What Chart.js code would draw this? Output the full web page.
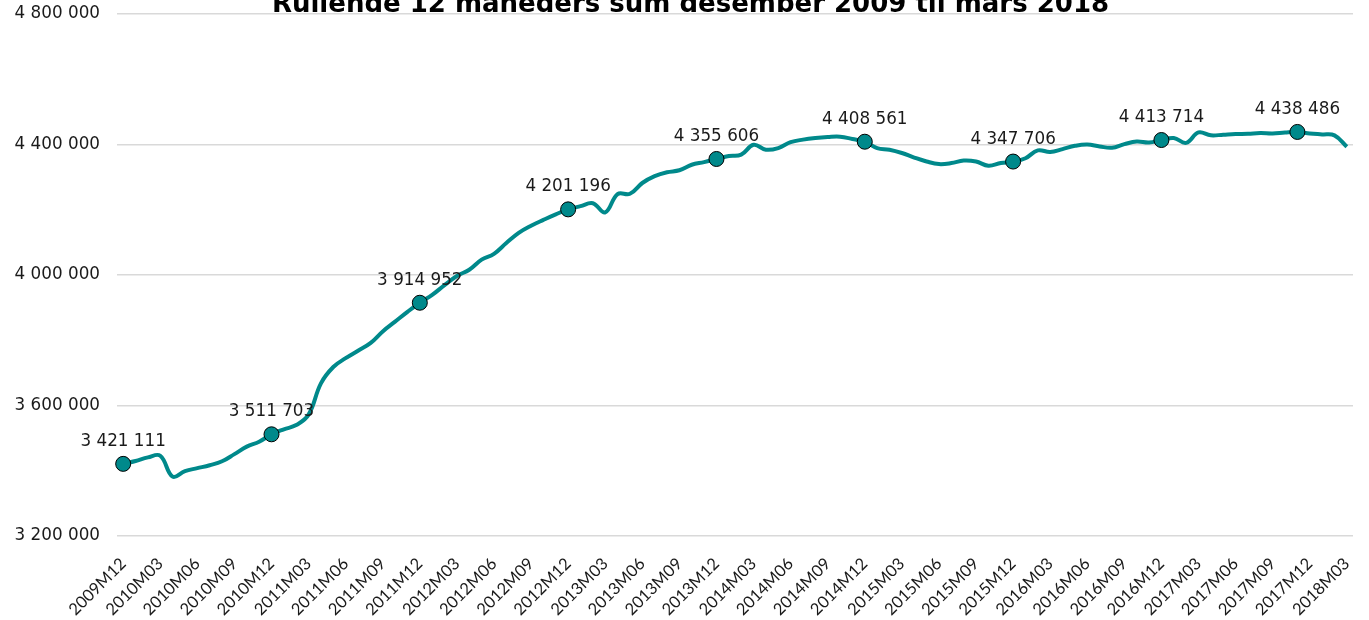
<!DOCTYPE html>
<html lang="no">
<head>
<meta charset="utf-8">
<title>Rullende 12 måneders sum</title>
<script src="https://cdn.jsdelivr.net/npm/chart.js@4/dist/chart.umd.min.js"></script>
<style>
  html, body { margin: 0; padding: 0; background: #ffffff; }
  #wrap { position: relative; width: 1369px; height: 620px; }
</style>
</head>
<body>
<div id="wrap"><canvas id="chart"></canvas></div>
<script>
// Rolling 12-month sum, monthly from 2009M12 to 2018M03
const title = 'Rullende 12 måneders sum desember 2009 til mars 2018';

const startYear = 2009;
const startMonth = 12;
const monthCount = 100;

const values = [
  3421111, 3430000, 3441000, 3446000, 3382000, 3399000, 3408000, 3417000, 3429000, 3451000,
  3474000, 3489000, 3511703, 3527000, 3540000, 3572000, 3668000, 3718000, 3745000, 3768000,
  3791000, 3827000, 3857000, 3887000, 3914952, 3939000, 3969000, 3997000, 4016000, 4047000,
  4065000, 4098000, 4129000, 4151000, 4169000, 4186000, 4201196, 4211000, 4220000, 4192000,
  4248000, 4249000, 4282000, 4303000, 4315000, 4321000, 4338000, 4346000, 4355606, 4365000,
  4369000, 4399000, 4384000, 4389000, 4407000, 4415000, 4420000, 4423000, 4424000, 4417000,
  4408561, 4389000, 4384000, 4374000, 4360000, 4348000, 4340000, 4343000, 4351000, 4348000,
  4335000, 4343000, 4347706, 4358000, 4382000, 4377000, 4386000, 4396000, 4400000, 4394000,
  4390000, 4401000, 4409000, 4406000, 4413714, 4420000, 4405000, 4437000, 4428000, 4430000,
  4432000, 4433000, 4435000, 4434000, 4437000, 4438486, 4434000, 4431000, 4428000, 4393000
];

// Points that carry a marker and a value label
const labelledPoints = [0, 12, 24, 36, 48, 60, 72, 84, 95];

// Y axis range and step
const yMin = 3200000;
const yMax = 4800000;
const yStep = 400000;

// Month labels like 2009M12, a tick label shown every third month
const months = [];
for (let i = 0; i < monthCount; i++) {
  const m0 = startMonth - 1 + i;
  const y = startYear + Math.floor(m0 / 12);
  const m = (m0 % 12) + 1;
  months.push(y + 'M' + String(m).padStart(2, '0'));
}
const tickEvery = 3;

const teal = '#00898b';

function fmt(v) {
  return String(Math.round(v)).replace(/\B(?=(\d{3})+(?!\d))/g, ' ');
}

const pointRadius = values.map((_, i) => labelledPoints.includes(i) ? 7.5 : 0);

const valueLabels = {
  id: 'valueLabels',
  afterDatasetsDraw(chart) {
    const ctx = chart.ctx;
    const meta = chart.getDatasetMeta(0);
    ctx.save();
    ctx.font = '16.8px "DejaVu Sans"';
    ctx.fillStyle = '#1a1a1a';
    ctx.textAlign = 'center';
    ctx.textBaseline = 'alphabetic';
    labelledPoints.forEach(i => {
      const p = meta.data[i];
      ctx.fillText(fmt(values[i]), p.x, p.y - 18);
    });
    ctx.restore();
  }
};

const topTitle = {
  id: 'topTitle',
  afterDraw(chart) {
    const ctx = chart.ctx;
    ctx.save();
    ctx.font = 'bold 26px "DejaVu Sans"';
    ctx.fillStyle = '#000000';
    ctx.textAlign = 'center';
    ctx.textBaseline = 'alphabetic';
    ctx.fillText(title, chart.width / 2 + 6, 12);
    ctx.restore();
  }
};

new Chart(document.getElementById('chart'), {
  type: 'line',
  data: {
    labels: months,
    datasets: [{
      data: values,
      borderColor: teal,
      borderWidth: 4,
      tension: 0.4,
      fill: false,
      pointRadius: pointRadius,
      pointHoverRadius: pointRadius,
      pointBackgroundColor: teal,
      pointBorderColor: '#000000',
      pointBorderWidth: 1
    }]
  },
  options: {
    responsive: true,
    maintainAspectRatio: false,
    animation: false,
    layout: { padding: { top: 14, right: 16, left: 0, bottom: 0 } },
    plugins: {
      legend: { display: false },
      title: { display: false },
      tooltip: { enabled: false }
    },
    scales: {
      x: {
        offset: true,
        grid: { display: false },
        border: { display: false },
        afterFit(scale) {
          scale.height = 84;
          scale.paddingLeft = 0;
          scale.paddingRight = 0;
        },
        ticks: {
          autoSkip: false,
          maxRotation: 45,
          minRotation: 45,
          padding: 10,
          color: '#1a1a1a',
          font: { family: 'Lato', size: 16.5 },
          callback(value, index) {
            return index % tickEvery === 0 ? months[index] : '';
          }
        }
      },
      y: {
        min: yMin,
        max: yMax,
        afterFit(scale) {
          scale.width = 117;
          scale.paddingTop = 0;
          scale.paddingBottom = 0;
        },
        grid: { color: '#d9d9d9', lineWidth: 1.5, drawTicks: false },
        border: { display: false },
        ticks: {
          stepSize: yStep,
          padding: 17,
          color: '#1a1a1a',
          font: { family: 'DejaVu Sans', size: 16.8 },
          callback(value) { return fmt(value); }
        }
      }
    }
  },
  plugins: [valueLabels, topTitle]
});
</script>
</body>
</html>
